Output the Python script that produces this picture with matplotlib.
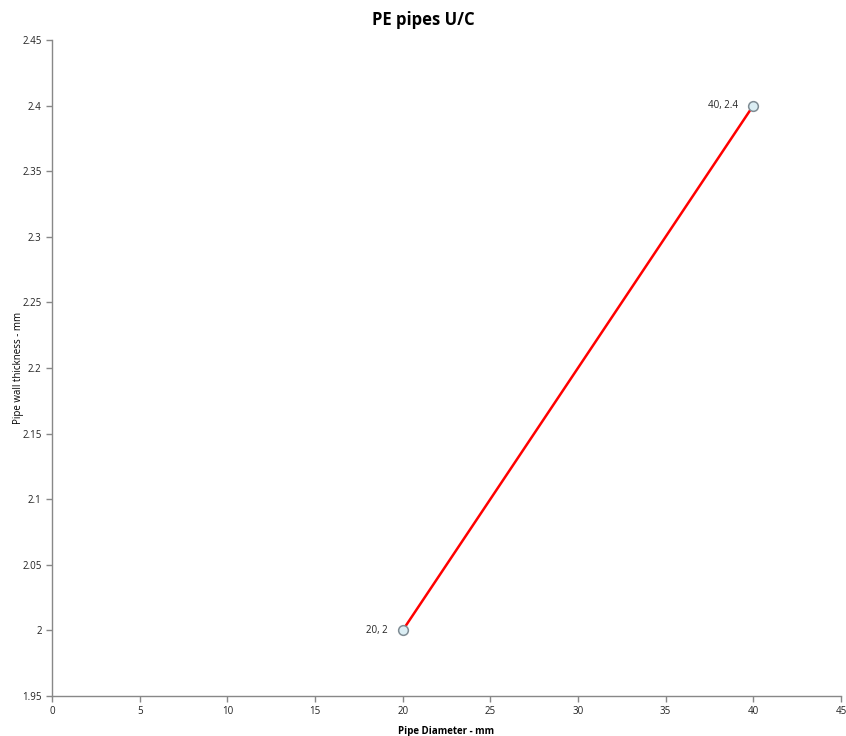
import matplotlib
matplotlib.use('Agg')
import matplotlib.pyplot as plt

plt.rcParams['font.family'] = ['Open Sans', 'DejaVu Sans']

diameter = [20, 40]
thickness = [2.0, 2.4]
point_labels = ['20, 2', '40, 2.4']

fig = plt.figure(figsize=(8.46, 7.36), dpi=100)
ax = fig.add_axes([0.0615, 0.0543, 0.9325, 0.8914])

ax.plot(diameter, thickness, color='#ff0000', lw=1.8, zorder=2)
ax.plot(diameter, thickness, 'o', ms=7, mfc='#dbeef4', mec='#7f8c94', mew=1.1, zorder=3)
for x, y, lab in zip(diameter, thickness, point_labels):
    ax.annotate(lab, (x, y), xytext=(-11, 0), textcoords='offset points',
                ha='right', va='center', fontsize=7, color='#222222')

ax.set_xlim(0, 45)
ax.set_ylim(1.95, 2.45)
ax.set_xticks(range(0, 46, 5))
ax.set_yticks([1.95, 2.0, 2.05, 2.1, 2.15, 2.2, 2.25, 2.3, 2.35, 2.4, 2.45])
ax.set_yticklabels(['1.95', '2', '2.05', '2.1', '2.15', '2.2', '2.25', '2.3', '2.35', '2.4', '2.45'])
ax.tick_params(labelsize=7, colors='#888888', labelcolor='#222222', length=4, width=1)

for s in ['top', 'right']:
    ax.spines[s].set_visible(False)
for s in ['left', 'bottom']:
    ax.spines[s].set_color('#888888')
    ax.spines[s].set_linewidth(1)

ax.set_xlabel('Pipe Diameter - mm', fontsize=7, fontweight='bold', labelpad=6)
ax.set_ylabel('Pipe wall thickness - mm', fontsize=7, labelpad=-1)
fig.suptitle('PE pipes U/C', fontsize=12, fontweight='bold', y=0.985)

fig.savefig('out.png', dpi=100)
